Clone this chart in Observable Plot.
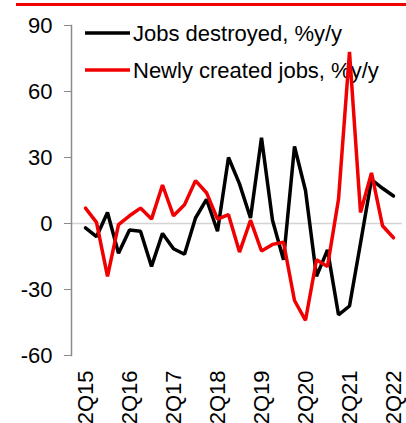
<!DOCTYPE html>
<html>
<head>
<meta charset="utf-8">
<script src="https://cdn.jsdelivr.net/npm/d3@7"></script>
<script src="https://cdn.jsdelivr.net/npm/@observablehq/plot@0.6"></script>
<style>
  html, body { margin: 0; padding: 0; background: #fff; }
  #wrap { position: relative; width: 406px; height: 423px; overflow: hidden; font-family: "Liberation Sans", Arial, sans-serif; }
  #topbar { position: absolute; left: 16px; top: 3px; width: 390px; height: 3px; background: #f00000; }
</style>
</head>
<body>
<div id="wrap"><div id="topbar"></div></div>
<script>
const quarters = [
  "2Q15","3Q15","4Q15","1Q16","2Q16","3Q16","4Q16","1Q17","2Q17","3Q17","4Q17","1Q18",
  "2Q18","3Q18","4Q18","1Q19","2Q19","3Q19","4Q19","1Q20","2Q20","3Q20","4Q20","1Q21",
  "2Q21","3Q21","4Q21","1Q22","2Q22"
];
const jobsDestroyed = [
  -2, -6, 5, -13.5, -3, -3.5, -19.5, -4.5, -11.5, -14, 2.5, 11,
  -3.5, 30, 18, 2.5, 39, 1.5, -16.5, 35, 15, -24, -12, -41.5,
  -37.5, -9, 20, 16, 12.5
];
const newlyCreated = [
  7, 0.5, -24, -0.5, 3.5, 7, 2, 17.5, 3.5, 8.5, 19.5, 14,
  2, 4, -13, 1.5, -12.5, -9.5, -8.5, -35, -44, -16.5, -19.5, 11,
  78, 5, 23, -1, -6.5
];
const yTicks = [-60, -30, 0, 30, 60, 90];
const xTickLabels = ["2Q15","2Q16","2Q17","2Q18","2Q19","2Q20","2Q21","2Q22"];
const seriesNames = ["Jobs destroyed, %y/y", "Newly created jobs, %y/y"];
const seriesColors = ["#000000", "#f00000"];

const destroyedData = quarters.map((q, i) => ({q, v: jobsDestroyed[i]}));
const createdData = quarters.map((q, i) => ({q, v: newlyCreated[i]}));

const legendMark = (index, scales, values, dims) => {
  const g = d3.create("svg:g");
  const rows = [33, 70];
  seriesNames.forEach((name, i) => {
    const y = rows[i];
    g.append("line").attr("x1", 85).attr("x2", 130).attr("y1", y).attr("y2", y)
      .attr("stroke", seriesColors[i]).attr("stroke-width", 3.5);
    g.append("text").attr("x", 133).attr("y", y + 8).text(name)
      .attr("text-anchor", "start")
      .attr("fill", "#000").attr("font-size", 22)
      .attr("font-family", "Liberation Sans, Arial, sans-serif");
  });
  return g.node();
};

const chart = Plot.plot({
  width: 406,
  height: 423,
  marginLeft: 71,
  marginRight: 4,
  marginTop: 25,
  marginBottom: 68,
  style: { fontFamily: "Liberation Sans, Arial, sans-serif", fontSize: "22px", color: "#000", background: "transparent" },
  x: { type: "point", domain: quarters, range: [76, 402], padding: 0 },
  y: { domain: [-60, 90] },
  marks: [
    Plot.ruleY([0], { stroke: "#d4d4d4", strokeWidth: 1.5 }),
    Plot.frame({ anchor: "left", stroke: "#8a8a8a", strokeWidth: 1.5 }),
    Plot.axisY({ ticks: yTicks, tickFormat: d => String(d), tickSize: 7, tickPadding: 12, stroke: "#8a8a8a", fill: "#000", fontSize: 22, label: null }),
    Plot.axisX({ ticks: xTickLabels, tickSize: 0, tickPadding: 15, tickRotate: -90, fill: "#000", fontSize: 22, label: null }),
    legendMark,
    Plot.line(destroyedData, { x: "q", y: "v", stroke: seriesColors[0], strokeWidth: 3.5, strokeLinejoin: "miter" }),
    Plot.line(createdData, { x: "q", y: "v", stroke: seriesColors[1], strokeWidth: 3.5, strokeLinejoin: "miter" })
  ]
});
chart.style.position = "absolute";
chart.style.left = "0px";
chart.style.top = "0px";
document.getElementById("wrap").appendChild(chart);
</script>
</body>
</html>
